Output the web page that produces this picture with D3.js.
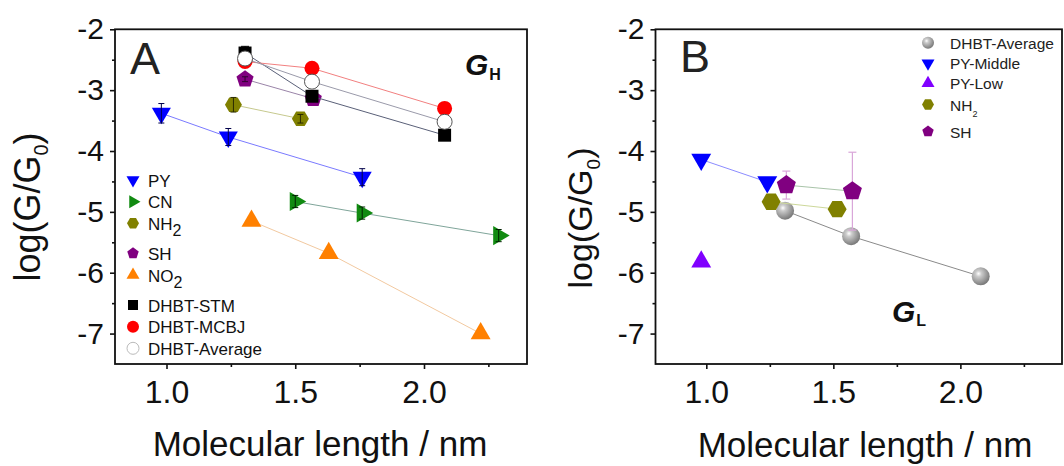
<!DOCTYPE html>
<html><head><meta charset="utf-8">
<script src="https://cdn.jsdelivr.net/npm/d3@7"></script>
<style>body{margin:0;background:#fff} svg{display:block}</style>
</head><body>
<svg id="c" width="1064" height="466"></svg>
<script>
// ---------- data ----------
const xTickValues = [1.0, 1.5, 2.0];
const xMinorValues = [1.25, 1.75, 2.25];
const yTickValues = [-2, -3, -4, -5, -6, -7];
const yMinorValues = [-2.5, -3.5, -4.5, -5.5, -6.5];
const xDomain = [0.8, 2.4];
const yDomain = [-7.5, -2];

// Panel A (G_H)
const pyX = [0.98, 1.24, 1.76];
const pyY = [-3.38, -3.77, -4.43];
const pyErr = [0.16, 0.14, 0.14];
const cnX = [1.50, 1.76, 2.29];
const cnY = [-4.83, -5.02, -5.39];
const cnErr = [0.1, 0.1, 0.1];
const nh2X = [1.26, 1.52];
const nh2Y = [-3.24, -3.47];
const nh2Err = [0.12, 0.07];
const shX = [1.305, 1.57];
const shY = [-2.82, -3.14];
const shErr = [0.04, 0.04];
const no2X = [1.33, 1.63, 2.22];
const no2Y = [-5.15, -5.68, -7.00];
const no2Err = [0, 0, 0];
const dhbtX = [1.305, 1.565, 2.08];
const stmY = [-2.39, -3.10, -3.74];
const stmErr = [0.11, 0.04, 0.04];
const mcbjY = [-2.53, -2.64, -3.30];
const mcbjErr = [0, 0, 0];
const avgY = [-2.48, -2.86, -3.52];
const avgErr = [0, 0, 0];

// Panel B (G_L)
const bAvgX = [1.31, 1.57, 2.08];
const bAvgY = [-4.98, -5.40, -6.06];
const pyMidX = [0.98, 1.24];
const pyMidY = [-4.14, -4.51];
const pyLowX = [0.98];
const pyLowY = [-5.82];
const bNh2X = [1.255, 1.515];
const bNh2Y = [-4.835, -4.955];
const bShX = [1.315, 1.575];
const bShY = [-4.56, -4.66];
const bShErr = [0.23, 0.64];

// ---------- drawing ----------
const FONT = "'Liberation Sans', Arial, Helvetica, sans-serif";
const svg = d3.select('#c').style('font-family', FONT);

const defs = svg.append('defs');
const grad = defs.append('radialGradient').attr('id', 'sphere')
  .attr('cx', '38%').attr('cy', '35%').attr('r', '65%');
grad.append('stop').attr('offset', '0%').attr('stop-color', '#ffffff');
grad.append('stop').attr('offset', '25%').attr('stop-color', '#cccccc');
grad.append('stop').attr('offset', '100%').attr('stop-color', '#7a7a7a');

function poly(n, r, rot) {
  const pts = d3.range(n).map(i => {
    const a = rot + i * 2 * Math.PI / n;
    return [r * Math.cos(a), r * Math.sin(a)];
  });
  return 'M' + pts.map(p => p[0].toFixed(2) + ',' + p[1].toFixed(2)).join('L') + 'Z';
}
function shapePath(type, r) {
  switch (type) {
    case 'triDown': return poly(3, r, Math.PI / 2);
    case 'triUp': return poly(3, r, -Math.PI / 2);
    case 'triRight': return poly(3, r, 0);
    case 'hex': return poly(6, r, 0);
    case 'pent': return poly(5, r, -Math.PI / 2);
    case 'square': return d3.symbol(d3.symbolSquare, (2 * r) * (2 * r))();
    default: return d3.symbol(d3.symbolCircle, Math.PI * r * r)();
  }
}

function makePanel(left, right, top, bottom) {
  const x = d3.scaleLinear().domain(xDomain).range([left, right]);
  const y = d3.scaleLinear().domain(yDomain).range([bottom, top]);
  const g = svg.append('g');
  const ax = g.append('g').attr('transform', `translate(0,${bottom})`)
    .call(d3.axisBottom(x).tickValues(xTickValues).tickSize(5).tickPadding(11).tickFormat(d3.format('.1f')));
  ax.select('.domain').remove();
  ax.selectAll('text').attr('font-size', 32).attr('font-family', FONT).attr('fill', '#111');
  ax.selectAll('line').attr('stroke', '#111').attr('stroke-width', 1.6);
  const axm = g.append('g').attr('transform', `translate(0,${bottom})`)
    .call(d3.axisBottom(x).tickValues(xMinorValues).tickSize(3).tickFormat(''));
  axm.select('.domain').remove();
  axm.selectAll('line').attr('stroke', '#111').attr('stroke-width', 1.6);

  const ay = g.append('g').attr('transform', `translate(${left},0)`)
    .call(d3.axisLeft(y).tickValues(yTickValues).tickSize(5).tickPadding(6).tickFormat(d => String(d).replace('\u2212', '-')));
  ay.select('.domain').remove();
  ay.selectAll('text').attr('font-size', 30).attr('font-family', FONT).attr('fill', '#111');
  ay.selectAll('line').attr('stroke', '#111').attr('stroke-width', 1.6);
  const aym = g.append('g').attr('transform', `translate(${left},0)`)
    .call(d3.axisLeft(y).tickValues(yMinorValues).tickSize(3).tickFormat(''));
  aym.select('.domain').remove();
  aym.selectAll('line').attr('stroke', '#111').attr('stroke-width', 1.6);

  g.append('rect').attr('x', left).attr('y', top).attr('width', right - left).attr('height', bottom - top)
    .attr('fill', 'none').attr('stroke', '#111').attr('stroke-width', 1.8);
  return {x, y, g};
}

function drawSeries(P, s) {
  const pts = s.x.map((v, i) => [v, s.y[i]]);
  if (s.line && pts.length > 1) {
    P.g.append('path').attr('d', d3.line().x(d => P.x(d[0])).y(d => P.y(d[1]))(pts))
      .attr('fill', 'none').attr('stroke', s.line).attr('stroke-width', 1);
  }
  if (s.err && s.errBehind) drawErr(P, s, pts);
  P.g.append('g').selectAll('path').data(pts).join('path')
    .attr('d', shapePath(s.shape, s.r))
    .attr('transform', d => `translate(${P.x(d[0])},${P.y(d[1])})`)
    .attr('fill', s.fill)
    .attr('stroke', s.stroke || 'none')
    .attr('stroke-width', s.strokeWidth || 1);
  if (s.err && !s.errBehind) drawErr(P, s, pts);
}
function drawErr(P, s, pts) {
  const eg = P.g.append('g').attr('stroke', s.errColor).attr('stroke-width', s.errWidth || 1);
  const cap = s.cap || 3;
  pts.forEach((d, i) => {
    const e = s.err[i];
    if (!e) return;
    const cx = P.x(d[0]), y1 = P.y(d[1] + e), y2 = P.y(d[1] - e);
    eg.append('line').attr('x1', cx).attr('x2', cx).attr('y1', y1).attr('y2', y2);
    eg.append('line').attr('x1', cx - cap).attr('x2', cx + cap).attr('y1', y1).attr('y2', y1);
    eg.append('line').attr('x1', cx - cap).attr('x2', cx + cap).attr('y1', y2).attr('y2', y2);
  });
}

// ---------- Panel A ----------
const A = makePanel(115, 527, 29.3, 364);
const seriesA = [
  {name: 'PY', x: pyX, y: pyY, err: pyErr, shape: 'triDown', r: 11, fill: '#0000ff', line: '#7a7aff', errColor: '#00004a'},
  {name: 'CN', x: cnX, y: cnY, err: cnErr, shape: 'triRight', r: 11, fill: '#118a11', line: '#7fa59a', errColor: '#002200'},
  {name: 'NH2', x: nh2X, y: nh2Y, err: nh2Err, shape: 'hex', r: 8.5, fill: '#808000', line: '#c6c98e', errColor: '#2a2a00'},
  {name: 'SH', x: shX, y: shY, err: shErr, shape: 'pent', r: 9, fill: '#800080', line: '#9a84a8', errColor: '#300030'},
  {name: 'NO2', x: no2X, y: no2Y, err: no2Err, shape: 'triUp', r: 11.5, fill: '#ff8000', line: '#f2c9a0', errColor: '#603000'},
  {name: 'DHBT-STM', x: dhbtX, y: stmY, err: stmErr, shape: 'square', r: 6.5, fill: '#000000', line: '#5a6078', errColor: '#000', errBehind: true, cap: 4},
  {name: 'DHBT-MCBJ', x: dhbtX, y: mcbjY, err: mcbjErr, shape: 'circle', r: 7.5, fill: '#ff0000', line: '#f28080', errColor: '#600'},
  {name: 'DHBT-Average', x: dhbtX, y: avgY, err: avgErr, shape: 'circle', r: 7.5, fill: '#ffffff', stroke: '#555', line: '#9a9aaa', errColor: '#333'}
];
seriesA.forEach(s => drawSeries(A, s));

// Legend A
const legA = [
  {s: seriesA[0], label: 'PY', y: 180},
  {s: seriesA[1], label: 'CN', y: 201.7},
  {s: seriesA[2], label: 'NH', sub: '2', y: 223.3},
  {s: seriesA[3], label: 'SH', y: 253.3},
  {s: seriesA[4], label: 'NO', sub: '2', y: 275},
  {s: seriesA[5], label: 'DHBT-STM', y: 305},
  {s: seriesA[6], label: 'DHBT-MCBJ', y: 326.7},
  {s: seriesA[7], label: 'DHBT-Average', y: 348.3}
];
const lgA = svg.append('g');
legA.forEach(L => {
  const rr = L.s.shape.startsWith('tri') ? 7.5 : (L.s.shape === 'square' ? 5 : 6);
  lgA.append('path').attr('d', shapePath(L.s.shape, rr))
    .attr('transform', `translate(133,${L.y})`)
    .attr('fill', L.s.fill).attr('stroke', L.s.stroke ? '#bbb' : 'none').attr('stroke-width', 1);
  const t = lgA.append('text').attr('x', 148).attr('y', L.y + 6.5).attr('font-size', 17).attr('fill', '#111').text(L.label);
  if (L.sub) t.append('tspan').attr('dy', 6).attr('font-size', 16).text(L.sub);
});

// Panel A labels
svg.append('text').attr('x', 130).attr('y', 73.5).attr('font-size', 45).attr('fill', '#222').text('A');
const gh = svg.append('text').attr('x', 465).attr('y', 75).attr('fill', '#111');
gh.append('tspan').attr('font-size', 30).attr('font-weight', 'bold').attr('font-style', 'italic').text('G');
gh.append('tspan').attr('font-size', 16).attr('font-weight', 'bold').attr('dx', 1).attr('dy', 5).text('H');

// Axis titles A
svg.append('text').attr('x', 320).attr('y', 456).attr('text-anchor', 'middle').attr('font-size', 35).attr('fill', '#111')
  .text('Molecular length / nm');
const ytA = svg.append('text').attr('transform', 'translate(40,207) rotate(-90)').attr('text-anchor', 'middle')
  .attr('font-size', 36).attr('fill', '#111');
ytA.append('tspan').text('log(G/G');
ytA.append('tspan').attr('font-size', 20).attr('dy', 8).text('0');
ytA.append('tspan').attr('dy', -8).text(')');

// ---------- Panel B ----------
const B = makePanel(655.5, 1062, 29.3, 364);
const seriesB = [
  {name: 'DHBT-Average', x: bAvgX, y: bAvgY, shape: 'circle', r: 9, fill: 'url(#sphere)', line: '#8a8a8a'},
  {name: 'PY-Middle', x: pyMidX, y: pyMidY, shape: 'triDown', r: 11.5, fill: '#0000ff', line: '#8c8cff'},
  {name: 'PY-Low', x: pyLowX, y: pyLowY, shape: 'triUp', r: 11.5, fill: '#8000ff'},
  {name: 'NH2', x: bNh2X, y: bNh2Y, shape: 'hex', r: 9.5, fill: '#808000', line: '#cdd89a'},
  {name: 'SH', x: bShX, y: bShY, err: bShErr, errBehind: true, errColor: '#d9a6d9', errWidth: 1.2, cap: 4, shape: 'pent', r: 10, fill: '#800080', line: '#a9c4a9'}
];
seriesB.forEach(s => drawSeries(B, s));

// Legend B
const legB = [
  {s: seriesB[0], label: 'DHBT-Average', y: 42.7},
  {s: seriesB[1], label: 'PY-Middle', y: 63.3},
  {s: seriesB[2], label: 'PY-Low', y: 83.3},
  {s: seriesB[3], label: 'NH', sub: '2', y: 104.5},
  {s: seriesB[4], label: 'SH', y: 131.5}
];
const lgB = svg.append('g');
legB.forEach(L => {
  const rr = L.s.shape.startsWith('tri') ? 7.5 : 6;
  lgB.append('path').attr('d', shapePath(L.s.shape, rr))
    .attr('transform', `translate(928,${L.y})`)
    .attr('fill', L.s.fill);
  const t = lgB.append('text').attr('x', 950).attr('y', L.y + 6).attr('font-size', 15.5).attr('fill', '#222').text(L.label);
  if (L.sub) t.append('tspan').attr('dy', 6).attr('font-size', 9).text(L.sub);
});

svg.append('text').attr('x', 680).attr('y', 72).attr('font-size', 45).attr('fill', '#222').text('B');
const gl = svg.append('text').attr('x', 892).attr('y', 322).attr('fill', '#111');
gl.append('tspan').attr('font-size', 30).attr('font-weight', 'bold').attr('font-style', 'italic').text('G');
gl.append('tspan').attr('font-size', 16).attr('font-weight', 'bold').attr('dx', 1).attr('dy', 4).text('L');

svg.append('text').attr('x', 865).attr('y', 457).attr('text-anchor', 'middle').attr('font-size', 35).attr('fill', '#111')
  .text('Molecular length / nm');
const ytB = svg.append('text').attr('transform', 'translate(592,218) rotate(-90)').attr('text-anchor', 'middle')
  .attr('font-size', 34).attr('fill', '#111');
ytB.append('tspan').text('log(G/G');
ytB.append('tspan').attr('font-size', 19).attr('dy', 8).text('0');
ytB.append('tspan').attr('dy', -8).text(')');
</script>
</body></html>
